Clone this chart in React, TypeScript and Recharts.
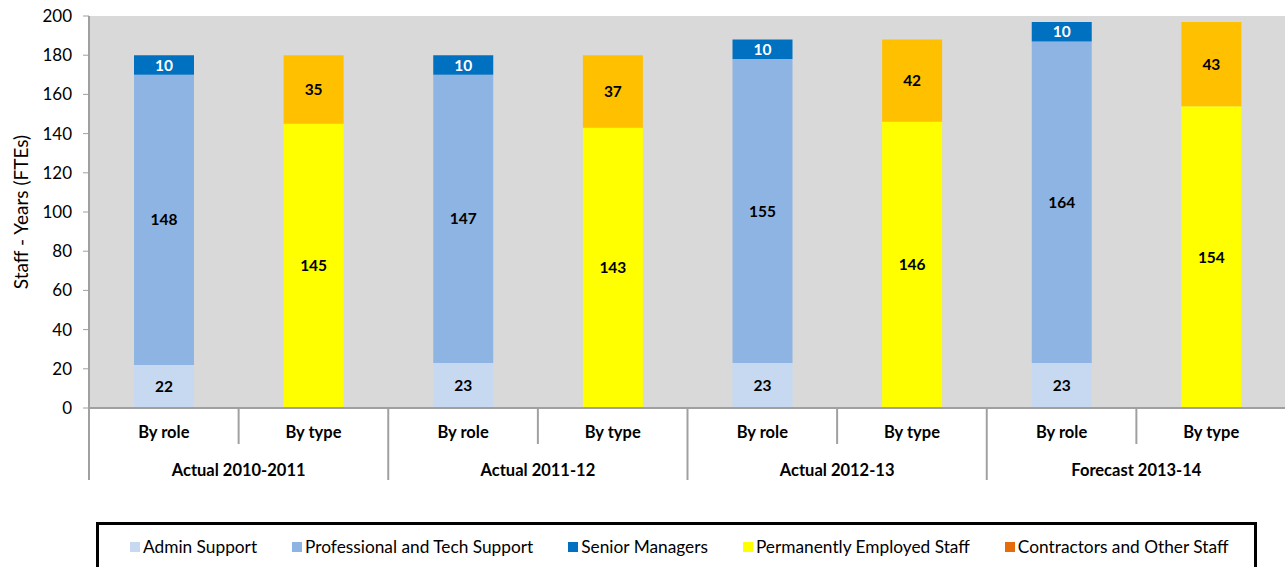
import { Bar, BarChart, CartesianGrid, LabelList, XAxis, YAxis } from "recharts";

const groups = ["Actual 2010-2011", "Actual 2011-12", "Actual 2012-13", "Forecast 2013-14"];
const subLabels = ["By role", "By type"];
const adminSupport = [22, 23, 23, 23];
const profTech = [148, 147, 155, 164];
const seniorMgrs = [10, 10, 10, 10];
const permanent = [145, 143, 146, 154];
const contractors = [35, 37, 42, 43];
const yTicks = [0, 20, 40, 60, 80, 100, 120, 140, 160, 180, 200];

const series = [
  { key: "admin", name: "Admin Support", fill: "#C6D9F1", legend: "#C6D9F1", label: "#000" },
  { key: "prof", name: "Professional and Tech Support", fill: "#8EB4E3", legend: "#8EB4E3", label: "#000" },
  { key: "senior", name: "Senior Managers", fill: "#0070C0", legend: "#0070C0", label: "#fff" },
  { key: "perm", name: "Permanently Employed Staff", fill: "#FFFF00", legend: "#FFFF00", label: "#000" },
  { key: "contr", name: "Contractors and Other Staff", fill: "#FFC000", legend: "#E46C0A", label: "#000" },
];

const rows = groups.flatMap((g, i) => [
  { id: `${i}-role`, group: g, sub: subLabels[0], admin: adminSupport[i], prof: profTech[i], senior: seniorMgrs[i], perm: 0, contr: 0 },
  { id: `${i}-type`, group: g, sub: subLabels[1], admin: 0, prof: 0, senior: 0, perm: permanent[i], contr: contractors[i] },
]);

const FONT = "Lato, 'Open Sans', sans-serif";
const W = 1290;
const H = 500;
const LEFT = 89;
const RIGHT = 1286;
const BOTTOM = 408;
const BAND = (RIGHT - LEFT) / rows.length;

function CatTick(props: any) {
  const { x, index } = props;
  const row = rows[index];
  if (!row) return null;
  const left = x - BAND / 2;
  const isGroupStart = index % 2 === 0;
  return (
    <g>
      <line x1={left} x2={left} y1={BOTTOM} y2={isGroupStart ? 480 : 444} stroke="#A0A0A0" strokeWidth={2} />
      {index === rows.length - 1 && (
        <line x1={x + BAND / 2} x2={x + BAND / 2} y1={BOTTOM} y2={480} stroke="#A0A0A0" strokeWidth={2} />
      )}
      <text x={x} y={438} textAnchor="middle" fontSize={16.5} fontWeight="bold" fill="#000" fontFamily={FONT}>
        {row.sub}
      </text>
      {!isGroupStart && (
        <text x={left} y={476} textAnchor="middle" fontSize={16.5} fontWeight="bold" fill="#000" fontFamily={FONT}>
          {row.group}
        </text>
      )}
    </g>
  );
}

function ValueLabel(color: string) {
  return (props: any) => {
    const { x, y, width, height, value } = props;
    if (!value) return null;
    return (
      <text
        x={x + width / 2}
        y={y + height / 2}
        dy={5.5}
        textAnchor="middle"
        fontSize={15.5}
        fontWeight="bold"
        fill={color}
        fontFamily={FONT}
      >
        {value}
      </text>
    );
  };
}

function YLabel() {
  return (
    <text x={21} y={212} transform="rotate(-90 21 212)" dy={7} textAnchor="middle" fontSize={19} fill="#000" fontFamily={FONT}>
      Staff - Years (FTEs)
    </text>
  );
}

export default function App() {
  return (
    <div style={{ position: "absolute", left: 0, top: 0, width: 1285, height: 567, overflow: "hidden", background: "#fff", fontFamily: FONT }}>
      <BarChart width={W} height={H} data={rows} margin={{ top: 16, right: W - RIGHT, left: 0, bottom: 0 }} barSize={60}>
        <CartesianGrid horizontal={false} vertical={false} fill="#D9D9D9" stroke="none" />
        <XAxis
          dataKey="id"
          height={H - BOTTOM}
          tickLine={false}
          axisLine={{ stroke: "#A0A0A0", strokeWidth: 2 }}
          interval={0}
          tick={<CatTick />}
        />
        <YAxis
          width={LEFT}
          domain={[0, 200]}
          ticks={yTicks}
          interval={0}
          tickSize={6}
          tickMargin={11}
          tickLine={{ stroke: "#A0A0A0" }}
          axisLine={{ stroke: "#A0A0A0", strokeWidth: 2 }}
          tick={{ fontSize: 17, fill: "#000", fontFamily: FONT }}
          label={<YLabel />}
        />
        {series.map((s) => (
          <Bar key={s.key} dataKey={s.key} name={s.name} stackId="a" fill={s.fill} isAnimationActive={false}>
            <LabelList dataKey={s.key} content={ValueLabel(s.label)} />
          </Bar>
        ))}
      </BarChart>
      <div
        style={{
          position: "absolute",
          left: 96,
          top: 522,
          width: 1161,
          height: 70,
          border: "3px solid #000",
          boxSizing: "border-box",
        }}
      >
        <div style={{ display: "flex", alignItems: "center", paddingLeft: 31, paddingTop: 11, gap: 35 }}>
          {series.map((s) => (
            <div key={s.key} style={{ display: "flex", alignItems: "center", fontSize: 17.3, color: "#000", whiteSpace: "nowrap" }}>
              <span style={{ display: "inline-block", width: 10, height: 10, background: s.legend, marginRight: 3 }} />
              {s.name}
            </div>
          ))}
        </div>
      </div>
    </div>
  );
}
